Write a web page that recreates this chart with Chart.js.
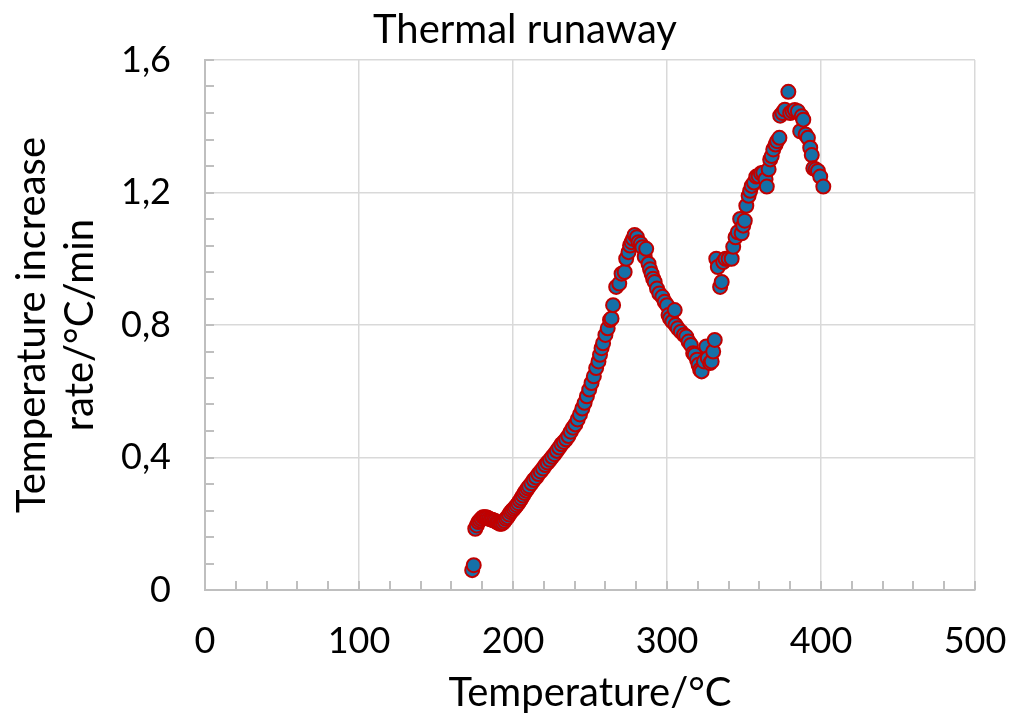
<!DOCTYPE html>
<html>
<head>
<meta charset="utf-8">
<title>Thermal runaway</title>
<script src="https://cdn.jsdelivr.net/npm/chart.js@4.4.1/dist/chart.umd.min.js"></script>
<style>
    html, body { margin: 0; padding: 0; background: #ffffff; }
    #wrap { width: 1012px; height: 719px; position: relative; }
</style>
</head>
<body>
<div id="wrap"><canvas id="runaway-chart" width="1012" height="719"></canvas></div>
<script>
// data (temperature in °C, rate in °C/min)
const temperatureC = [
    173.5, 174.5, 175.5, 176.5, 177.5, 178.5, 179.5, 180.5, 181.5, 182.5,
    183.5, 184.5, 185.5, 186.5, 187.5, 188.5, 189.5, 190.5, 191.5, 192.5,
    193.5, 194.5, 195.5, 196.5, 197.5, 198.5, 199.5, 200.5, 201.5, 202.5,
    203.5, 204.5, 205.5, 206.5, 207.5, 208.5, 209.5, 210.5, 212, 213.5,
    215, 216.5, 218, 219.5, 221, 222.5, 224, 225.5, 227, 228.5,
    230, 231.5, 233, 234.5, 236, 237.5, 239, 240.5, 242, 243.5,
    245, 246.5, 248, 249.5, 251, 252.5, 254, 255.5, 256.5, 257.5,
    258.5, 260, 261.5, 263, 264, 265, 267, 269, 270.5, 272.5,
    273.5, 275, 276, 277, 278, 279, 280.5, 281.5, 283, 284,
    285.5, 286.5, 288, 289, 290, 291, 292, 293.5, 295, 297,
    298.5, 300, 301, 302, 303.5, 305, 305.5, 307, 309, 311,
    312.5, 314, 315.5, 317, 318, 319.5, 320.5, 321.5, 322.5, 324,
    325.5, 326.5, 328, 329, 330, 331, 332, 333, 334.5, 335.5,
    336.5, 338, 340, 342, 343, 344.5, 346, 347.5, 348.5, 349.5,
    350.5, 351.5, 353, 354, 355, 356.5, 358, 359.5, 361, 362.5,
    364, 364.8, 366, 367, 368, 369, 370.5, 371.5, 373, 373.5,
    375, 376.5, 378.8, 380, 381.5, 383, 385, 386.5, 387.5, 388.5,
    390, 391.5, 393, 394, 395, 396.5, 398, 399.5, 401.5
];
const riseRate = [
    0.06, 0.075, 0.185, 0.195, 0.205, 0.21, 0.215, 0.22, 0.22, 0.22,
    0.218, 0.215, 0.213, 0.212, 0.21, 0.208, 0.205, 0.203, 0.2, 0.2,
    0.203, 0.208, 0.215, 0.22, 0.228, 0.235, 0.24, 0.245, 0.25, 0.256,
    0.262, 0.27, 0.277, 0.285, 0.293, 0.3, 0.307, 0.313, 0.322, 0.332,
    0.34, 0.35, 0.358, 0.367, 0.377, 0.385, 0.393, 0.402, 0.41, 0.42,
    0.43, 0.44, 0.447, 0.455, 0.465, 0.478, 0.49, 0.5, 0.515, 0.53,
    0.548, 0.565, 0.585, 0.605, 0.625, 0.645, 0.67, 0.69, 0.71, 0.73,
    0.745, 0.77, 0.79, 0.815, 0.82, 0.86, 0.915, 0.925, 0.955, 0.96,
    1.0, 1.02, 1.04, 1.05, 1.06, 1.072, 1.065, 1.05, 1.045, 1.035,
    1.006, 1.03, 0.985, 0.968, 0.955, 0.94, 0.93, 0.91, 0.895, 0.885,
    0.87, 0.86, 0.83, 0.82, 0.81, 0.845, 0.8, 0.79, 0.78, 0.77,
    0.765, 0.75, 0.74, 0.715, 0.71, 0.695, 0.68, 0.665, 0.66, 0.69,
    0.735, 0.7, 0.685, 0.69, 0.72, 0.755, 1.0, 0.975, 0.915, 0.93,
    0.99, 1.0, 1.0, 1.0, 1.036, 1.065, 1.08, 1.12, 1.077, 1.1,
    1.115, 1.16, 1.19, 1.205, 1.22, 1.23, 1.248, 1.25, 1.258, 1.26,
    1.24, 1.218, 1.27, 1.3, 1.31, 1.33, 1.345, 1.355, 1.365, 1.432,
    1.44, 1.45, 1.504, 1.44, 1.445, 1.449, 1.445, 1.385, 1.43, 1.42,
    1.375, 1.365, 1.335, 1.313, 1.273, 1.27, 1.265, 1.248, 1.218
];
const xTicks = [0, 100, 200, 300, 400, 500];
const yTicks = [0, 0.4, 0.8, 1.2, 1.6];
const xMinorStep = 20;
const yMinorStep = 0.08;

const FONT = 'Lato, "Liberation Sans", sans-serif';
const AXIS_GREY = '#bfbfbf';
const GRID_GREY = '#d9d9d9';

// chart title drawn by hand so it sits where Excel put it
const titlePlugin = {
    id: 'excelTitle',
    afterDraw(chart) {
        const ctx = chart.ctx;
        ctx.save();
        ctx.font = '40px ' + FONT;
        ctx.fillStyle = '#000000';
        ctx.textAlign = 'center';
        ctx.textBaseline = 'middle';
        ctx.fillText('Thermal runaway', 525, 30);
        ctx.restore();
    }
};

// small inside tick marks between the major gridlines
const minorTicksPlugin = {
    id: 'minorTicks',
    beforeDatasetsDraw(chart) {
        const ctx = chart.ctx;
        const xs = chart.scales.x;
        const ys = chart.scales.y;
        const left = chart.chartArea.left;
        const bottom = chart.chartArea.bottom;
        ctx.save();
        ctx.strokeStyle = AXIS_GREY;
        ctx.lineWidth = 2;
        ctx.beginPath();
        for (let v = xs.min; v <= xs.max + 1e-9; v += xMinorStep) {
            const px = Math.round(xs.getPixelForValue(v));
            ctx.moveTo(px, bottom);
            ctx.lineTo(px, bottom - 9);
        }
        for (let v = ys.min; v <= ys.max + 1e-9; v += yMinorStep) {
            const py = Math.round(ys.getPixelForValue(v));
            ctx.moveTo(left, py);
            ctx.lineTo(left + 9, py);
        }
        ctx.stroke();
        ctx.restore();
    }
};

function buildPoints() {
    return temperatureC.map((t, i) => ({ x: t, y: riseRate[i] }));
}

document.addEventListener('DOMContentLoaded', () => {
    const ctx = document.getElementById('runaway-chart').getContext('2d');
    new Chart(ctx, {
        type: 'scatter',
        data: {
            datasets: [{
                label: 'Thermal runaway',
                data: buildPoints(),
                pointRadius: 7,
                pointHoverRadius: 7,
                pointBorderWidth: 2,
                pointBorderColor: '#c00000',
                pointBackgroundColor: '#1570a8',
                showLine: false
            }]
        },
        options: {
            responsive: false,
            animation: false,
            events: [],
            layout: {
                padding: { top: 60, right: 37, bottom: 0, left: 0 }
            },
            plugins: {
                legend: { display: false },
                tooltip: { enabled: false },
                title: { display: false }
            },
            scales: {
                x: {
                    type: 'linear',
                    min: xTicks[0],
                    max: xTicks[xTicks.length - 1],
                    afterBuildTicks: (scale) => {
                        scale.ticks = xTicks.map(v => ({ value: v }));
                    },
                    afterFit: (scale) => { scale.height = 129; },
                    ticks: {
                        color: '#000000',
                        font: { family: FONT, size: 36 },
                        padding: 2,
                        maxRotation: 0,
                        callback: (value) => String(value)
                    },
                    grid: {
                        color: GRID_GREY,
                        lineWidth: 1.5,
                        drawTicks: true,
                        tickLength: 28,
                        tickColor: 'rgba(0,0,0,0)'
                    },
                    border: { color: AXIS_GREY, width: 2 },
                    title: {
                        display: true,
                        text: 'Temperature/°C',
                        color: '#000000',
                        font: { family: FONT, size: 40 },
                        padding: { top: 0, bottom: 2 }
                    }
                },
                y: {
                    type: 'linear',
                    min: yTicks[0],
                    max: yTicks[yTicks.length - 1],
                    afterBuildTicks: (scale) => {
                        scale.ticks = yTicks.map(v => ({ value: v }));
                    },
                    afterFit: (scale) => { scale.width = 205; },
                    ticks: {
                        color: '#000000',
                        font: { family: FONT, size: 36 },
                        padding: 34,
                        callback: (value) => value === 0 ? '0' : value.toFixed(1).replace('.', ',')
                    },
                    grid: {
                        color: GRID_GREY,
                        lineWidth: 1.5,
                        drawTicks: false
                    },
                    border: { color: AXIS_GREY, width: 2 },
                    title: {
                        display: true,
                        text: ['Temperature increase', 'rate/°C/min'],
                        color: '#000000',
                        font: { family: FONT, size: 40, lineHeight: 1.2 },
                        padding: { top: 8, bottom: 0 }
                    }
                }
            }
        },
        plugins: [minorTicksPlugin, titlePlugin]
    });
});
</script>
</body>
</html>
